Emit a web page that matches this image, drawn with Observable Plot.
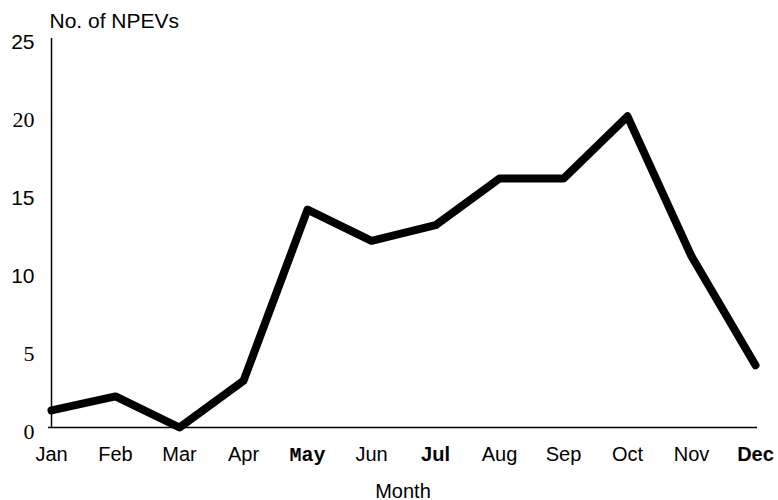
<!DOCTYPE html>
<html><head><meta charset="utf-8">
<script src="https://cdn.jsdelivr.net/npm/d3@7"></script>
<script src="https://cdn.jsdelivr.net/npm/@observablehq/plot@0.6"></script>
<style>body{margin:0;background:#fff}</style>
</head><body><div id="chart"></div>
<script>
const months = ["Jan","Feb","Mar","Apr","May","Jun","Jul","Aug","Sep","Oct","Nov","Dec"];
const npevs = [1.1, 2, 0, 3, 14, 12, 13, 16, 16, 20, 11, 4];
const yTicks = [0, 5, 10, 15, 20, 25];
const yLabel = "No. of NPEVs";
const xLabel = "Month";

const data = months.map((m, i) => ({month: m, value: npevs[i]}));

const chart = Plot.plot({
  width: 778, height: 500,
  marginLeft: 48, marginRight: 21, marginTop: 38, marginBottom: 73,
  style: {fontFamily: "'Liberation Sans', Arial, sans-serif", fontSize: "21px", color: "#000", background: "#fff"},
  x: {type: "point", domain: months, padding: 0, label: null},
  y: {domain: [0, 25], label: null},
  marks: [
    Plot.axisX({tickSize: 0, tickPadding: 19, fontSize: 20}),
    Plot.axisY({ticks: yTicks, tickSize: 0, tickPadding: 14, dy: 4, fontSize: 21}),
    Plot.ruleY([0], {stroke: "#000", strokeWidth: 1.5}),
    Plot.ruleX([months[0]], {y1: 0, y2: 25, stroke: "#000", strokeWidth: 1.5}),
    Plot.line(data, {x: "month", y: "value", stroke: "#000", strokeWidth: 8, strokeLinejoin: "round", strokeLinecap: "round"}),
    Plot.text([yLabel], {frameAnchor: "top-left", textAnchor: "start", dx: 1, dy: -25, fontSize: 21}),
    Plot.text([xLabel], {frameAnchor: "bottom", dy: 70, fontSize: 20})
  ]
});
document.getElementById("chart").append(chart);

// Mimic mixed typography of the original tick labels
d3.select(chart).selectAll("text").each(function() {
  const t = this.textContent;
  if (["0", "5", "20"].includes(t)) d3.select(this).attr("font-family", "'Liberation Serif', serif").attr("font-size", 22);
  if (t === "May") d3.select(this).attr("font-family", "'Liberation Mono', monospace").attr("font-weight", "bold");
  if (t === "Jul" || t === "Dec") d3.select(this).attr("font-weight", "600");
});
</script>
</body></html>
